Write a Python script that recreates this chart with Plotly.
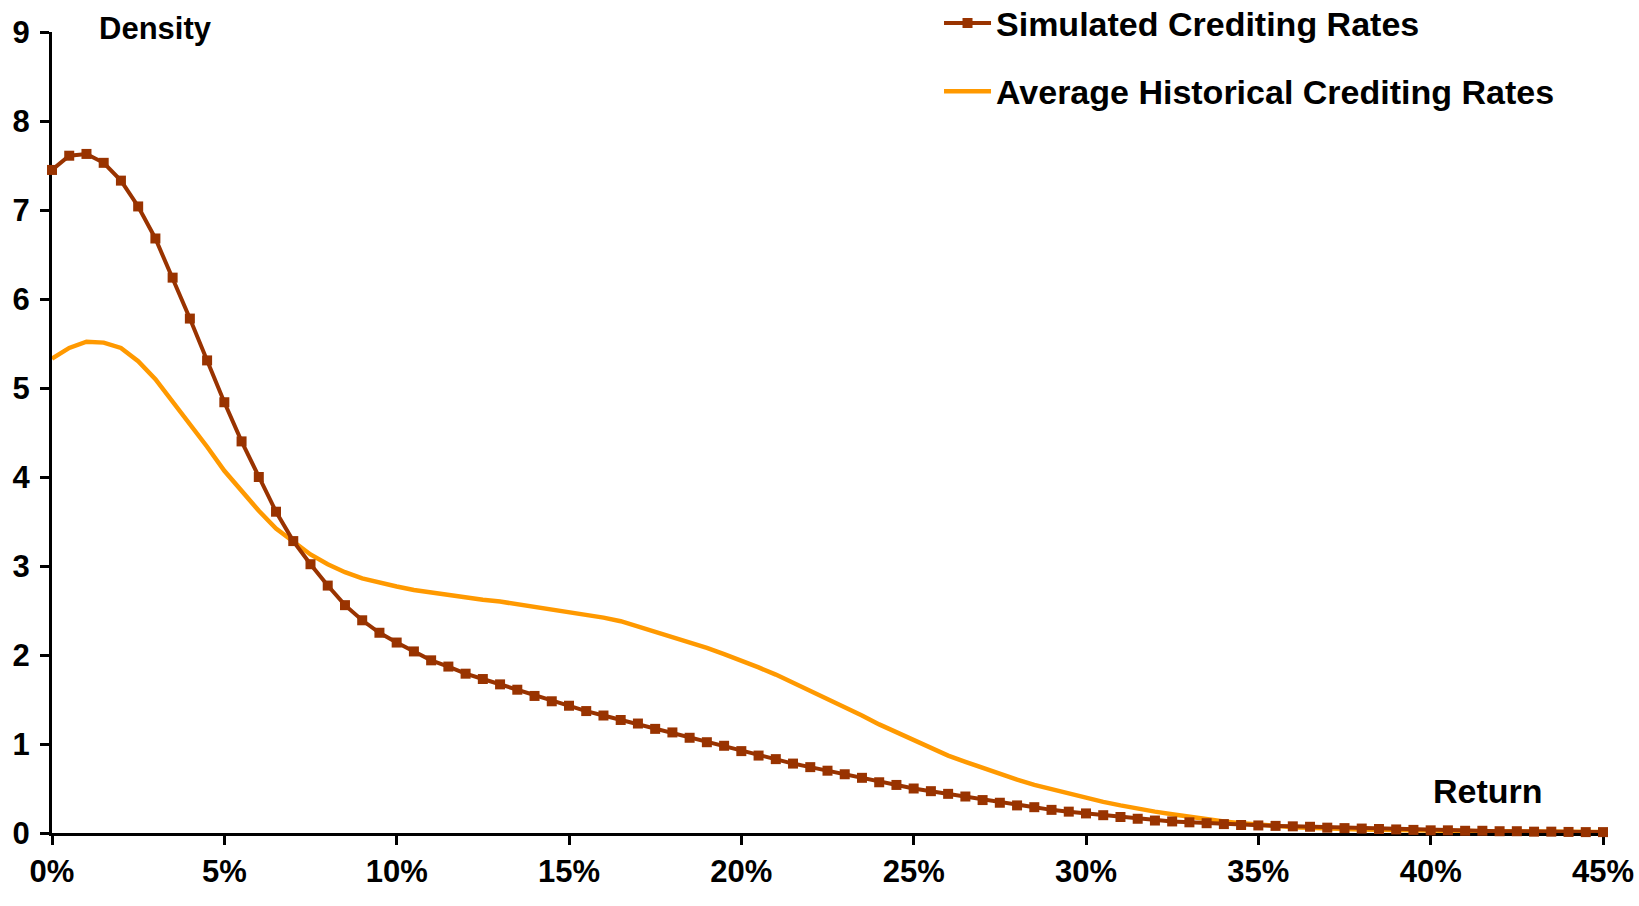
import plotly.graph_objects as go

returns_pct = [i * 0.5 for i in range(91)]

simulated = [
    7.45, 7.61, 7.63, 7.53, 7.33, 7.04, 6.68, 6.24, 5.78, 5.31,
    4.84, 4.40, 4.00, 3.61, 3.28, 3.02, 2.78, 2.56, 2.39, 2.25,
    2.14, 2.04, 1.94, 1.87, 1.79, 1.73, 1.67, 1.61, 1.54, 1.48,
    1.43, 1.37, 1.32, 1.27, 1.23, 1.17, 1.13, 1.07, 1.02, 0.98,
    0.92, 0.87, 0.83, 0.78, 0.74, 0.70, 0.66, 0.62, 0.57, 0.54,
    0.50, 0.47, 0.44, 0.41, 0.37, 0.34, 0.31, 0.29, 0.26, 0.24,
    0.22, 0.20, 0.18, 0.16, 0.14, 0.13, 0.12, 0.11, 0.10, 0.09,
    0.085, 0.08, 0.075, 0.07, 0.06, 0.055, 0.05, 0.045, 0.04, 0.035,
    0.03, 0.03, 0.025, 0.025, 0.02, 0.02, 0.015, 0.015, 0.012, 0.01,
    0.01,
]

historical = [
    5.33, 5.45, 5.52, 5.51, 5.45, 5.30, 5.10, 4.85, 4.60, 4.34,
    4.07, 3.84, 3.62, 3.42, 3.27, 3.13, 3.02, 2.93, 2.86, 2.81,
    2.77, 2.73, 2.70, 2.67, 2.64, 2.62, 2.60, 2.57, 2.54, 2.51,
    2.49, 2.45, 2.42, 2.38, 2.32, 2.27, 2.21, 2.15, 2.08, 2.01,
    1.94, 1.86, 1.78, 1.69, 1.59, 1.50, 1.41, 1.32, 1.22, 1.13,
    1.04, 0.95, 0.87, 0.80, 0.73, 0.66, 0.60, 0.54, 0.49, 0.44,
    0.39, 0.35, 0.31, 0.27, 0.24, 0.21, 0.18, 0.15, 0.13, 0.11,
    0.09, 0.08, 0.065, 0.055, 0.05, 0.045, 0.04, 0.035, 0.032, 0.03,
    0.027, 0.025, 0.022, 0.02, 0.018, 0.016, 0.014, 0.012, 0.011, 0.01,
    0.01,
]

x_ticks = [0, 5, 10, 15, 20, 25, 30, 35, 40, 45]
y_ticks = [0, 1, 2, 3, 4, 5, 6, 7, 8, 9]

FONT = "Liberation Sans, Arial, sans-serif"
DARK = "#993300"
ORANGE = "#FF9900"

fig = go.Figure()
fig.add_trace(go.Scatter(
    x=returns_pct, y=historical, mode="lines",
    name="Average Historical Crediting Rates",
    line=dict(color=ORANGE, width=4.5),
    legendgroup="b", legendrank=2, cliponaxis=False,
))
fig.add_trace(go.Scatter(
    x=returns_pct, y=simulated, mode="lines+markers",
    name="Simulated Crediting Rates",
    line=dict(color=DARK, width=4),
    marker=dict(symbol="square", size=10, color=DARK),
    legendgroup="a", legendrank=1, cliponaxis=False,
))

fig.update_layout(
    width=1639, height=906,
    margin=dict(l=52, r=36, t=32, b=73, autoexpand=False),
    paper_bgcolor="white", plot_bgcolor="white",
    font=dict(family=FONT, size=31, color="black"),
    showlegend=True,
    legend=dict(
        x=0.5719, y=1.047, xref="paper", yref="paper",
        xanchor="left", yanchor="top",
        font=dict(family=FONT, size=34, color="black", weight="bold"),
        bgcolor="rgba(0,0,0,0)", traceorder="grouped", tracegroupgap=21,
        itemwidth=47,
    ),
    xaxis=dict(
        range=[0, 45], tickvals=x_ticks,
        ticktext=[f"{v}%" for v in x_ticks],
        showgrid=False, zeroline=False,
        showline=True, linecolor="black", linewidth=3,
        ticks="outside", ticklen=9, tickwidth=3, tickcolor="black",
        tickfont=dict(family=FONT, size=31, weight="bold"),
        ticklabelstandoff=0, layer="below traces",
    ),
    yaxis=dict(
        range=[0, 9], tickvals=y_ticks,
        showgrid=False, zeroline=False,
        showline=True, linecolor="black", linewidth=3,
        ticks="outside", ticklen=9, tickwidth=3, tickcolor="black",
        tickfont=dict(family=FONT, size=31, weight="bold"),
        ticklabelstandoff=4, layer="below traces",
    ),
    annotations=[
        dict(text="Density", x=1.3, y=1.004, xref="x", yref="paper",
             xanchor="left", yanchor="middle", showarrow=False,
             font=dict(family=FONT, size=31, weight="bold")),
        dict(text="Return", x=40.0, y=0.47, xref="x", yref="y",
             xanchor="left", yanchor="middle", showarrow=False,
             font=dict(family=FONT, size=34, weight="bold")),
    ],
)

fig.write_html("out.html", config={"displayModeBar": False})
with open("out.html", "r", encoding="utf-8") as f:
    html = f.read()
html = html.replace("<head>", "<head><style>html,body{margin:0;padding:0;overflow:hidden}</style>", 1)
with open("out.html", "w", encoding="utf-8") as f:
    f.write(html)
